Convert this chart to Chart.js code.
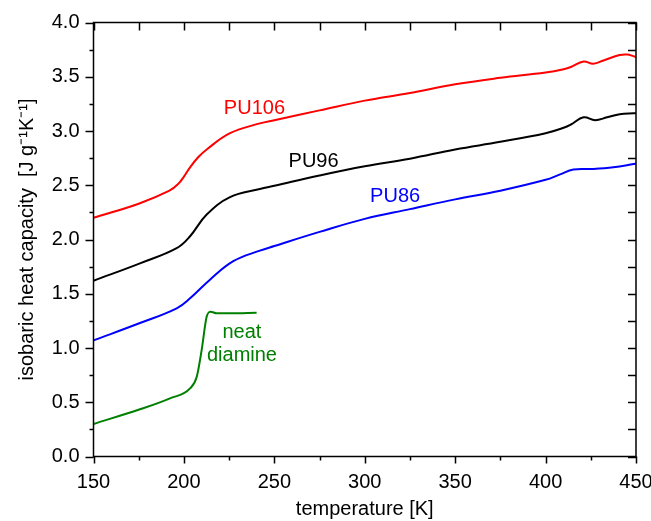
<!DOCTYPE html>
<html>
<head>
<meta charset="utf-8">
<script src="https://cdn.jsdelivr.net/npm/chart.js@4.4.0/dist/chart.umd.min.js"></script>
<style>
  html, body { margin: 0; padding: 0; background: #fff; }
  #wrap { width: 651px; height: 521px; }
</style>
</head>
<body>
<div id="wrap"><canvas id="cp-chart" width="651" height="521"></canvas></div>
<script>
// temperature [K] and isobaric heat capacity [J g-1 K-1]
const pu106T  = [150, 175, 192, 197, 200, 203.4, 208, 212.6, 225.5, 242, 250, 275, 300, 325, 350, 375, 400, 410, 414, 421, 426.4, 432, 441, 445, 448.6, 450];
const pu106Cp = [2.20, 2.33, 2.45, 2.515, 2.58, 2.665, 2.76, 2.83, 2.98, 3.07, 3.10, 3.19, 3.28, 3.35, 3.43, 3.49, 3.54, 3.57, 3.59, 3.64, 3.62, 3.65, 3.70, 3.705, 3.69, 3.68];

const pu96T  = [150, 175.7, 196, 203.4, 212.6, 225.5, 242, 250, 275, 300, 325, 350, 375, 400, 410, 414, 421, 427.4, 434, 441, 448.6, 450];
const pu96Cp = [1.62, 1.78, 1.92, 2.03, 2.23, 2.39, 2.465, 2.495, 2.59, 2.675, 2.745, 2.83, 2.90, 2.98, 3.03, 3.06, 3.126, 3.10, 3.126, 3.155, 3.163, 3.163];

const pu86T  = [150, 175.7, 196, 203.4, 214.4, 227.3, 242, 250, 275, 300, 325, 350, 375, 400, 408, 415.4, 426.4, 437.5, 448.6, 450];
const pu86Cp = [1.07, 1.23, 1.366, 1.458, 1.63, 1.80, 1.897, 1.94, 2.07, 2.19, 2.28, 2.37, 2.45, 2.55, 2.60, 2.645, 2.65, 2.665, 2.695, 2.70];

const diamineT  = [150, 175.7, 192.3, 203.4, 207.1, 209.8, 212.6, 214.8, 218.1, 225.5, 240.2];
const diamineCp = [0.30, 0.435, 0.536, 0.628, 0.735, 0.98, 1.29, 1.335, 1.32, 1.32, 1.325];

const xTicks = [150, 200, 250, 300, 350, 400, 450];
const yTicks = [0.0, 0.5, 1.0, 1.5, 2.0, 2.5, 3.0, 3.5, 4.0];

// curve labels: text, colour, anchor (T, Cp at baseline)
const curveLabels = [
  { lines: ["PU106"], color: "#ff0000", T: 239, Cp: 3.157 },
  { lines: ["PU96"], color: "#000000", T: 271.7, Cp: 2.665 },
  { lines: ["PU86"], color: "#0000ff", T: 316.8, Cp: 2.348 },
  { lines: ["neat", "diamine"], color: "#008000", T: 232.1, Cp: 1.089 },
];

function toPoints(xs, ys) {
  return xs.map((x, i) => ({ x: x, y: ys[i] }));
}

const FONT = "'Liberation Sans', Arial, sans-serif";

const frameTicks = {
  id: "frameTicks",
  afterDatasetsDraw(chart) {
    const ctx = chart.ctx;
    const a = chart.chartArea;
    const xs = chart.scales.x;
    const ys = chart.scales.y;
    ctx.save();
    ctx.strokeStyle = "#000";
    ctx.lineWidth = 1.5;
    ctx.strokeRect(a.left, a.top, a.right - a.left, a.bottom - a.top);
    ctx.beginPath();
    for (let t = 150; t <= 450; t += 25) {
      const px = Math.round(xs.getPixelForValue(t)) + 0.5;
      const major = t % 50 === 0;
      ctx.moveTo(px, a.bottom);
      ctx.lineTo(px, a.bottom + (major ? 7 : 4));
      ctx.moveTo(px, a.top);
      ctx.lineTo(px, a.top + 8);
    }
    for (let i = 0; i <= 16; i++) {
      const v = i * 0.25;
      const py = Math.round(ys.getPixelForValue(v)) + 0.5;
      const major = i % 2 === 0;
      ctx.moveTo(a.left, py);
      ctx.lineTo(a.left - (major ? 8 : 4), py);
      ctx.moveTo(a.right, py);
      ctx.lineTo(a.right - 8, py);
    }
    ctx.stroke();

    ctx.font = "20px " + FONT;
    ctx.textAlign = "center";
    ctx.textBaseline = "alphabetic";
    curveLabels.forEach((lab) => {
      ctx.fillStyle = lab.color;
      const px = xs.getPixelForValue(lab.T);
      const py = ys.getPixelForValue(lab.Cp);
      lab.lines.forEach((s, k) => ctx.fillText(s, px, py + k * 23));
    });
    ctx.restore();
  },
};

const series = [
  { label: "PU106", data: toPoints(pu106T, pu106Cp), color: "#ff0000", mode: "default" },
  { label: "PU96", data: toPoints(pu96T, pu96Cp), color: "#000000", mode: "default" },
  { label: "PU86", data: toPoints(pu86T, pu86Cp), color: "#0000ff", mode: "default" },
  { label: "neat diamine", data: toPoints(diamineT, diamineCp), color: "#008000", mode: "monotone" },
];

new Chart(document.getElementById("cp-chart").getContext("2d"), {
  type: "line",
  data: {
    datasets: series.map((s) => ({
      label: s.label,
      data: s.data,
      borderColor: s.color,
      borderWidth: 2,
      pointRadius: 0,
      fill: false,
      tension: 0.4,
      cubicInterpolationMode: s.mode,
    })),
  },
  options: {
    responsive: false,
    animation: false,
    layout: { padding: { top: 22.5, right: 0, left: 0, bottom: 0 } },
    plugins: { legend: { display: false }, tooltip: { enabled: false } },
    scales: {
      x: {
        type: "linear",
        min: 150,
        max: 450,
        afterBuildTicks: (scale) => { scale.ticks = xTicks.map((v) => ({ value: v })); },
        afterFit: (scale) => {
          scale.height = 64.5;
          scale.paddingLeft = 0;
          scale.paddingRight = 15;
        },
        grid: { display: false, drawTicks: false },
        border: { display: false },
        ticks: { color: "#000", padding: 14, font: { family: FONT, size: 20 }, maxRotation: 0 },
        title: {
          display: true,
          text: "temperature [K]",
          color: "#000",
          font: { family: FONT, size: 20 },
          padding: { top: 0, bottom: 0 },
        },
      },
      y: {
        type: "linear",
        min: 0,
        max: 4,
        afterBuildTicks: (scale) => { scale.ticks = yTicks.map((v) => ({ value: v })); },
        afterFit: (scale) => {
          scale.width = 93.5;
          scale.paddingTop = 0;
          scale.paddingBottom = 0;
        },
        grid: { display: false, drawTicks: false },
        border: { display: false },
        ticks: {
          color: "#000",
          padding: 14,
          font: { family: FONT, size: 20 },
          callback: (v) => Number(v).toFixed(1),
        },
        title: {
          display: true,
          text: "isobaric heat capacity  [J g\u207B\u00B9K\u207B\u00B9]",
          color: "#000",
          font: { family: FONT, size: 20 },
          padding: { top: 15, bottom: 0 },
        },
      },
    },
  },
  plugins: [frameTicks],
});
</script>
</body>
</html>
